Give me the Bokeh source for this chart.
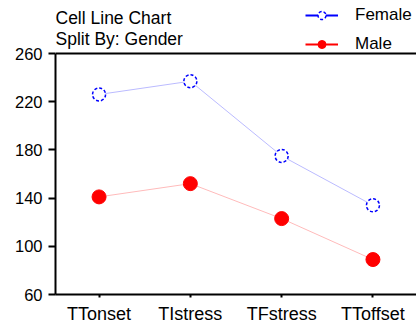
from bokeh.plotting import figure
from bokeh.models import Range1d, FactorRange, FixedTicker, Legend, LegendItem, Label, ColumnDataSource, Span
from bokeh.embed import file_html
from bokeh.resources import INLINE

categories = ["TTonset", "TIstress", "TFstress", "TToffset"]
female = [226, 237, 175, 134]
male = [141, 152, 123, 89]
y_ticks = [60, 100, 140, 180, 220, 260]
y_min, y_max = 60, 260
title_lines = ["Cell Line Chart", "Split By: Gender"]
series_names = ["Female", "Male"]

FONT = "Liberation Sans"

# frame spans the whole height above the x axis; the header sits inside the frame
# above y_max (53 px of 241 px per 200 units)
header_extent = (y_max - y_min) * 53 / 241

p = figure(width=416, height=327,
           x_range=FactorRange(*categories, range_padding=-0.023, range_padding_units="absolute"),
           y_range=Range1d(y_min, y_max + header_extent), output_backend="svg",
           toolbar_location=None, title=None,
           min_border_left=55, min_border_right=0, min_border_top=0, min_border_bottom=33)
p.outline_line_color = None
p.xgrid.visible = False
p.ygrid.visible = False

src_f = ColumnDataSource(dict(x=categories, y=female))
src_m = ColumnDataSource(dict(x=categories, y=male))

p.line("x", "y", source=src_f, line_color="blue", line_alpha=0.27, line_width=1)
p.line("x", "y", source=src_m, line_color="red", line_alpha=0.27, line_width=1)
sf = p.scatter("x", "y", source=src_f, size=13, marker="circle", fill_color="white",
               line_color="blue", line_width=1.5, line_dash="3 2")
sm = p.scatter("x", "y", source=src_m, size=14, marker="circle", fill_color="red", line_color="red")

# legend-only line renderers (one invisible NaN point each)
nan = float("nan")
llf = p.line(x=[categories[0]], y=[nan], line_color="blue", line_width=2)
llm = p.line(x=[categories[0]], y=[nan], line_color="red", line_width=2)

p.add_layout(Span(location=y_max, dimension="width", line_color="black", line_width=2))

for ax in p.yaxis:
    ax.ticker = FixedTicker(ticks=y_ticks)
    ax.bounds = (y_min, y_max)
    ax.axis_line_width = 2
    ax.major_tick_line_width = 2
    ax.major_tick_out = 7
    ax.major_tick_in = 0
    ax.minor_tick_line_color = None
    ax.major_label_text_font = FONT
    ax.major_label_text_font_size = "16.5px"
    ax.major_label_text_color = "black"
    ax.major_label_standoff = 6
for ax in p.xaxis:
    ax.axis_line_width = 2
    ax.major_tick_line_width = 2
    ax.major_tick_out = 3
    ax.major_tick_in = 0
    ax.major_label_text_font = FONT
    ax.major_label_text_font_size = "18px"
    ax.major_label_text_color = "black"
    ax.major_label_standoff = 6

legend = Legend(items=[LegendItem(label=series_names[0], renderers=[llf, sf]),
                       LegendItem(label=series_names[1], renderers=[llm, sm])],
                location=(250, 240), label_text_font=FONT, label_text_font_size="17px",
                label_text_color="black",
                background_fill_alpha=0, border_line_color=None, spacing=9,
                padding=0, margin=0, glyph_width=33, glyph_height=20, label_height=20,
                label_standoff=17)
p.add_layout(legend, "center")

p.add_layout(Label(x=0, y=277, x_units="screen", y_units="screen", text=title_lines[0],
                   text_font=FONT, text_font_size="17.5px", text_color="black",
                   text_baseline="alphabetic"))
p.add_layout(Label(x=0, y=256, x_units="screen", y_units="screen", text=title_lines[1],
                   text_font=FONT, text_font_size="17.5px", text_color="black",
                   text_baseline="alphabetic"))

open("out.html", "w").write(file_html(p, INLINE))
